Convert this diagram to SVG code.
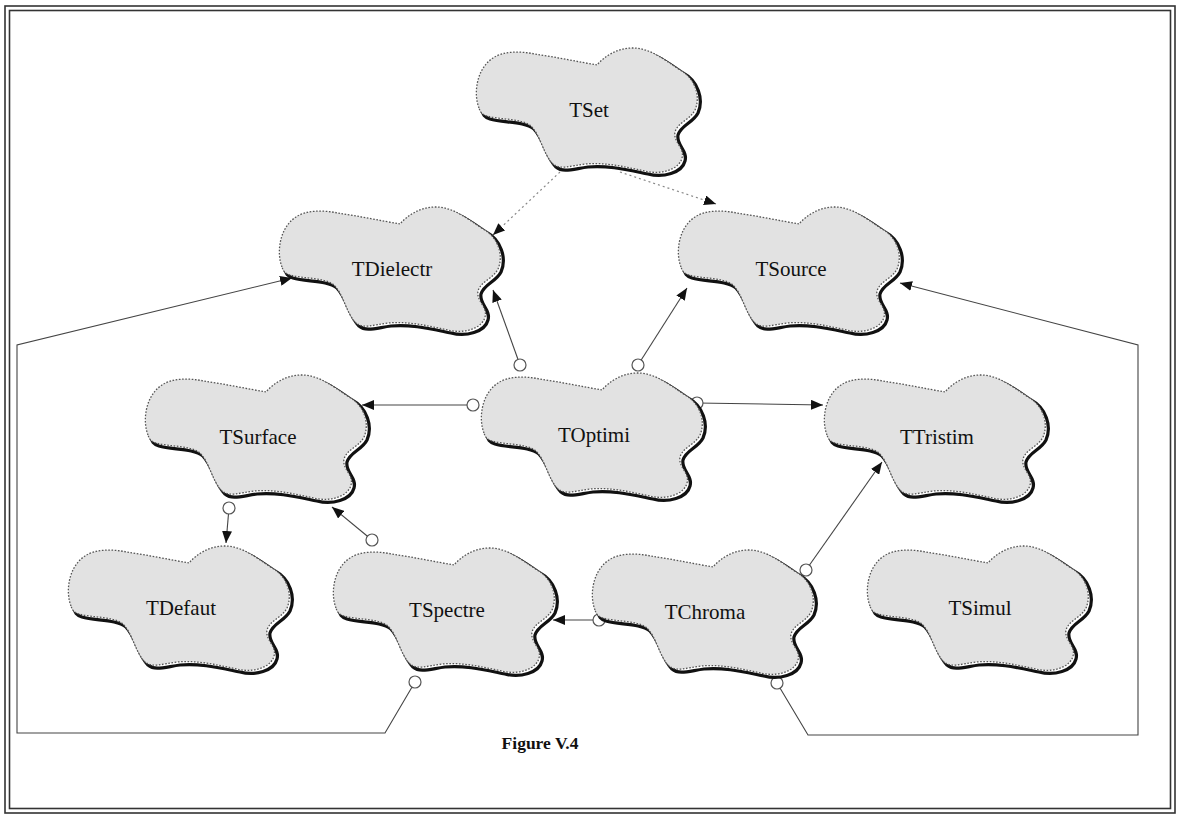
<svg xmlns="http://www.w3.org/2000/svg" xmlns:xlink="http://www.w3.org/1999/xlink" width="1179" height="819" viewBox="0 0 1179 819">
<style>
.frame{fill:none;stroke:#333;stroke-width:1.6}
.shadow{fill:none;stroke:#111;stroke-width:3.2}
.cloud{fill:#e2e2e2;stroke:#555;stroke-width:1.3;stroke-dasharray:1.6 1.6}
.lbl{font-family:"Liberation Serif","Times New Roman",serif;font-size:21px;fill:#111;text-anchor:middle;dominant-baseline:central}
.cap{font-family:"Liberation Serif","Times New Roman",serif;font-size:17.5px;font-weight:bold;fill:#111;text-anchor:middle}
.link{fill:none;stroke:#444;stroke-width:1.1}
.dep{fill:none;stroke:#888;stroke-width:1.2;stroke-dasharray:2 3}
.knob{fill:#fff;stroke:#555;stroke-width:1.2}
</style>
<defs>
<path id="cl" d="M 4,60 C -2,45 2,20 18,10 C 28,3 45,3 60,6 C 80,9 105,14 122,17 C 130,8 142,0 158,0 C 175,0 190,12 205,22 C 220,30 226,48 220,62 C 215,72 203,74 200,84 C 198,94 210,100 207,110 C 204,122 185,127 170,123 C 150,119 130,114 110,116 C 95,118 85,122 78,116 C 68,106 66,88 56,78 C 46,70 25,72 12,68 C 6,66 5,63 4,60 Z"/>
<marker id="ah" viewBox="0 0 12 10" refX="12" refY="5" markerWidth="12" markerHeight="10" markerUnits="userSpaceOnUse" orient="auto">
<path d="M0,0 L12,5 L0,10 Z" fill="#111"/>
</marker>
</defs>
<rect width="1179" height="819" fill="#fff"/>
<rect class="frame" x="5" y="6" width="1170" height="807"/>
<rect class="frame" x="9.5" y="10.5" width="1161" height="798"/>

<g id="connectors">
<line class="dep" x1="560" y1="172" x2="493" y2="235" marker-end="url(#ah)"/>
<line class="dep" x1="620" y1="172" x2="716" y2="204" marker-end="url(#ah)"/>
<line class="link" x1="520" y1="365" x2="493" y2="290" marker-end="url(#ah)"/>
<line class="link" x1="638" y1="365" x2="687" y2="288" marker-end="url(#ah)"/>
<line class="link" x1="473" y1="405" x2="362" y2="405" marker-end="url(#ah)"/>
<line class="link" x1="697" y1="403" x2="823" y2="405" marker-end="url(#ah)"/>
<line class="link" x1="229" y1="508" x2="226" y2="543" marker-end="url(#ah)"/>
<line class="link" x1="372" y1="540" x2="332" y2="507" marker-end="url(#ah)"/>
<line class="link" x1="599" y1="620" x2="553" y2="620" marker-end="url(#ah)"/>
<line class="link" x1="806" y1="570" x2="882" y2="462" marker-end="url(#ah)"/>
<polyline class="link" points="415,682 385,733 17,733 17,345 292,278" marker-end="url(#ah)"/>
<polyline class="link" points="777,683 808,735 1138,735 1138,345 900,283" marker-end="url(#ah)"/>
<circle class="knob" cx="520" cy="365" r="6"/>
<circle class="knob" cx="638" cy="365" r="6"/>
<circle class="knob" cx="473" cy="405" r="6"/>
<circle class="knob" cx="697" cy="403" r="6"/>
<circle class="knob" cx="229" cy="508" r="6"/>
<circle class="knob" cx="372" cy="540" r="6"/>
<circle class="knob" cx="599" cy="620" r="6"/>
<circle class="knob" cx="806" cy="570" r="6"/>
<circle class="knob" cx="415" cy="682" r="6"/>
<circle class="knob" cx="777" cy="683" r="6"/>
</g>

<g id="TSet" transform="translate(475,48)"><use xlink:href="#cl" class="shadow" transform="translate(3,3)"/><use xlink:href="#cl" class="cloud"/><text class="lbl" x="114" y="62">TSet</text></g>
<g id="TDielectr" transform="translate(278,207)"><use xlink:href="#cl" class="shadow" transform="translate(3,3)"/><use xlink:href="#cl" class="cloud"/><text class="lbl" x="114" y="62">TDielectr</text></g>
<g id="TSource" transform="translate(677,207)"><use xlink:href="#cl" class="shadow" transform="translate(3,3)"/><use xlink:href="#cl" class="cloud"/><text class="lbl" x="114" y="62">TSource</text></g>
<g id="TSurface" transform="translate(144,375)"><use xlink:href="#cl" class="shadow" transform="translate(3,3)"/><use xlink:href="#cl" class="cloud"/><text class="lbl" x="114" y="62">TSurface</text></g>
<g id="TOptimi" transform="translate(480,373)"><use xlink:href="#cl" class="shadow" transform="translate(3,3)"/><use xlink:href="#cl" class="cloud"/><text class="lbl" x="114" y="62">TOptimi</text></g>
<g id="TTristim" transform="translate(823,375)"><use xlink:href="#cl" class="shadow" transform="translate(3,3)"/><use xlink:href="#cl" class="cloud"/><text class="lbl" x="114" y="62">TTristim</text></g>
<g id="TDefaut" transform="translate(67,546)"><use xlink:href="#cl" class="shadow" transform="translate(3,3)"/><use xlink:href="#cl" class="cloud"/><text class="lbl" x="114" y="62">TDefaut</text></g>
<g id="TSpectre" transform="translate(332,548)"><use xlink:href="#cl" class="shadow" transform="translate(3,3)"/><use xlink:href="#cl" class="cloud"/><text class="lbl" x="115" y="62">TSpectre</text></g>
<g id="TChroma" transform="translate(591,550)"><use xlink:href="#cl" class="shadow" transform="translate(3,3)"/><use xlink:href="#cl" class="cloud"/><text class="lbl" x="114" y="62">TChroma</text></g>
<g id="TSimul" transform="translate(866,546)"><use xlink:href="#cl" class="shadow" transform="translate(3,3)"/><use xlink:href="#cl" class="cloud"/><text class="lbl" x="114" y="62">TSimul</text></g>

<text class="cap" x="540" y="749">Figure V.4</text>
</svg>
